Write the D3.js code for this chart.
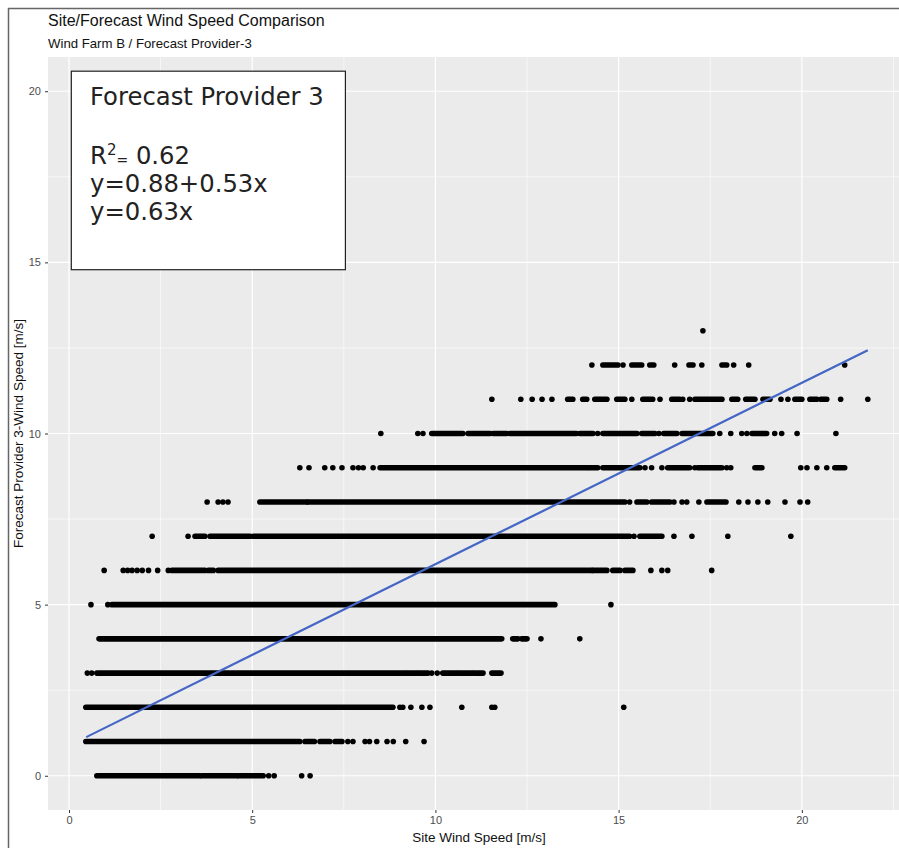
<!DOCTYPE html>
<html>
<head>
<meta charset="utf-8">
<script src="https://cdn.jsdelivr.net/npm/d3@7"></script>
<style>
  html, body { margin: 0; padding: 0; background: #fff; }
  svg { display: block; }
</style>
</head>
<body>
<div id="chart"></div>
<script>
// forecast levels are whole m/s, so every row of points sits on one integer y
const levels = [0, 1, 2, 3, 4, 5, 6, 7, 8, 9, 10, 11, 12, 13];

// dense stretches of overlapping points per level: [fromX, toX]
const denseRuns = [
  [[0.76, 3.57], [3.63, 4.58], [4.63, 5.3]],
  [[0.46, 6.3], [6.44, 6.7], [6.85, 7.12], [7.26, 7.45]],
  [[0.46, 8.84]],
  [[0.76, 9.17], [9.22, 9.5], [9.55, 9.8], [10.2, 10.6], [10.65, 11.0], [11.05, 11.3], [11.54, 11.79]],
  [[0.82, 11.81], [12.11, 12.25], [12.35, 12.5]],
  [[1.17, 13.26]],
  [[2.81, 3.71], [3.8, 3.94], [4.07, 14.27], [14.3, 14.68], [14.84, 15.04], [15.17, 15.39]],
  [[3.44, 3.71], [3.85, 4.94], [5.03, 15.3], [15.58, 16.18]],
  [[5.21, 6.49], [6.52, 15.17], [15.5, 15.77], [15.9, 16.4], [17.41, 17.93]],
  [[8.49, 14.13], [14.17, 14.43], [14.57, 15.58], [16.34, 16.94], [17.16, 17.82], [18.72, 18.91], [20.9, 21.17]],
  [[9.9, 10.75], [10.89, 11.49], [11.57, 11.95], [12.03, 13.59], [13.62, 13.85], [13.94, 14.3],
   [14.57, 15.5], [15.63, 15.99], [16.23, 16.59], [16.73, 17.57], [18.64, 19.04]],
  [[13.61, 13.75], [14.02, 14.13], [14.35, 14.68], [14.95, 15.17], [15.66, 15.93], [16.45, 16.67],
   [17.08, 17.82], [18.09, 18.25], [18.47, 18.72], [18.94, 19.13], [19.81, 20.0], [20.22, 20.41], [20.52, 20.68]],
  [[14.57, 14.98], [15.36, 15.63], [15.85, 15.96], [16.92, 17.03], [17.82, 17.95]],
  []
];

// isolated points per level (site wind speed)
const loosePoints = [
  [5.45, 5.6, 6.35, 6.58],
  [7.61, 7.75, 8.08, 8.2, 8.4, 8.68, 8.85, 9.19, 9.69],
  [9.03, 9.11, 9.33, 9.63, 9.85, 10.72, 11.54, 11.62, 15.14],
  [0.5, 0.62, 9.9, 10.05],
  [12.88, 13.94],
  [0.6, 1.06, 14.79],
  [0.96, 1.48, 1.6, 1.72, 1.86, 2.0, 2.17, 2.42, 2.71, 15.88, 16.18, 16.34, 17.54],
  [2.27, 3.25, 15.42, 16.51, 17.0, 17.98, 19.7],
  [3.77, 4.07, 4.2, 4.34, 15.3, 16.51, 16.73, 16.86, 17.19, 18.28, 18.53, 18.8, 19.07, 19.54, 19.95, 20.16],
  [6.3, 6.55, 6.98, 7.2, 7.45, 7.75, 7.9, 8.03, 8.3, 15.72, 15.9, 16.18, 17.08, 17.95, 18.06,
   19.97, 20.14, 20.41, 20.68],
  [8.51, 9.52, 9.66, 14.43, 16.1, 17.76, 18.06, 18.36, 18.5, 19.26, 19.45, 19.87, 20.93],
  [11.54, 12.33, 12.64, 12.91, 13.18, 15.36, 16.13, 16.75, 16.94, 19.43, 19.62, 21.06, 21.8],
  [14.27, 15.12, 16.53, 17.27, 18.14, 18.55, 21.17],
  [17.3]
];

// linear fit shown in the box
const fitIntercept = 0.88;
const fitSlope = 0.53;
const fitRange = [0.47, 21.8];

const xTicks = [0, 5, 10, 15, 20];
const yTicks = [0, 5, 10, 15, 20];
const xMinor = [2.5, 7.5, 12.5, 17.5, 22.5];
const yMinor = [2.5, 7.5, 12.5, 17.5];

const boxLines = ["Forecast Provider 3", "", "R2= 0.62", "y=0.88+0.53x", "y=0.63x"];

const width = 899, height = 848;
const panel = {left: 48, right: 899, top: 57, bottom: 810};

const svg = d3.select("#chart").append("svg")
  .attr("width", width)
  .attr("height", height);

const x = d3.scaleLinear().domain([-0.6, 22.87]).range([47, 907]);
const y = d3.scaleLinear().domain([-1, 21]).range([810, 57]);

// MARK: - frame and titles

svg.append("line")
  .attr("x1", 8).attr("x2", width).attr("y1", 8.5).attr("y2", 8.5)
  .attr("stroke", "#666").attr("stroke-width", 1.5);
svg.append("line")
  .attr("x1", 8.5).attr("x2", 8.5).attr("y1", 8).attr("y2", height)
  .attr("stroke", "#666").attr("stroke-width", 1.5);

svg.append("text")
  .attr("x", 48).attr("y", 26)
  .attr("font-family", "Liberation Sans, Arial, sans-serif")
  .attr("font-size", 16)
  .attr("fill", "#111")
  .text("Site/Forecast Wind Speed Comparison");

svg.append("text")
  .attr("x", 48).attr("y", 48)
  .attr("font-family", "Liberation Sans, Arial, sans-serif")
  .attr("font-size", 13.2)
  .attr("fill", "#111")
  .text("Wind Farm B / Forecast Provider-3");

// MARK: - panel

svg.append("clipPath").attr("id", "panel-clip")
  .append("rect")
  .attr("x", panel.left).attr("y", panel.top)
  .attr("width", panel.right - panel.left).attr("height", panel.bottom - panel.top);

const plot = svg.append("g").attr("clip-path", "url(#panel-clip)");

plot.append("rect")
  .attr("x", panel.left).attr("y", panel.top)
  .attr("width", panel.right - panel.left).attr("height", panel.bottom - panel.top)
  .attr("fill", "#EBEBEB");

plot.selectAll(".minor-x").data(xMinor).join("line")
  .attr("x1", d => x(d)).attr("x2", d => x(d))
  .attr("y1", panel.top).attr("y2", panel.bottom)
  .attr("stroke", "#fff").attr("stroke-width", 0.6);
plot.selectAll(".minor-y").data(yMinor).join("line")
  .attr("y1", d => y(d)).attr("y2", d => y(d))
  .attr("x1", panel.left).attr("x2", panel.right)
  .attr("stroke", "#fff").attr("stroke-width", 0.6);
plot.selectAll(".major-x").data(xTicks).join("line")
  .attr("x1", d => x(d)).attr("x2", d => x(d))
  .attr("y1", panel.top).attr("y2", panel.bottom)
  .attr("stroke", "#fff").attr("stroke-width", 1.2);
plot.selectAll(".major-y").data(yTicks).join("line")
  .attr("y1", d => y(d)).attr("y2", d => y(d))
  .attr("x1", panel.left).attr("x2", panel.right)
  .attr("stroke", "#fff").attr("stroke-width", 1.2);

// MARK: - points

const runs = levels.flatMap(level => denseRuns[level].map(r => ({level, x0: r[0], x1: r[1]})));
const dots = levels.flatMap(level => loosePoints[level].map(v => ({level, x: v})));

plot.append("g").selectAll("line").data(runs).join("line")
  .attr("x1", d => x(d.x0)).attr("x2", d => x(d.x1))
  .attr("y1", d => y(d.level)).attr("y2", d => y(d.level))
  .attr("stroke", "#000")
  .attr("stroke-width", 5.6)
  .attr("stroke-linecap", "round");

plot.append("g").selectAll("circle").data(dots).join("circle")
  .attr("cx", d => x(d.x))
  .attr("cy", d => y(d.level))
  .attr("r", 2.8)
  .attr("fill", "#000");

// fitted line
plot.append("line")
  .attr("x1", x(fitRange[0])).attr("y1", y(fitIntercept + fitSlope * fitRange[0]))
  .attr("x2", x(fitRange[1])).attr("y2", y(fitIntercept + fitSlope * fitRange[1]))
  .attr("stroke", "#4467C6")
  .attr("stroke-width", 2.2);

// MARK: - annotation box

const box = plot.append("g");
box.append("rect")
  .attr("x", x(0.05) + 0.5).attr("y", y(20.6) + 0.5)
  .attr("width", x(7.53) - x(0.05)).attr("height", y(14.8) - y(20.6))
  .attr("fill", "#fff")
  .attr("stroke", "#222")
  .attr("stroke-width", 1.2);

const boxText = box.append("text")
  .attr("font-family", "DejaVu Sans, Verdana, sans-serif")
  .attr("font-size", 24.3)
  .attr("fill", "#222");

const lineY = [105, 136, 164, 192, 220];
boxLines.forEach((line, i) => {
  if (!line) return;
  const t = boxText.append("tspan").attr("x", 90).attr("y", lineY[i]);
  if (line.startsWith("R2")) {
    t.text("R");
    boxText.append("tspan").attr("dy", -9).attr("font-size", 15).text("2");
    boxText.append("tspan").attr("dy", 10).attr("font-size", 14).text("=");
    boxText.append("tspan").attr("dy", -1).text(" 0.62");
  } else {
    t.text(line);
  }
});

// MARK: - axes

const tickFont = "Liberation Sans, Arial, sans-serif";

const xAxis = svg.append("g")
  .attr("transform", `translate(0,${panel.bottom})`)
  .call(d3.axisBottom(x).tickValues(xTicks).tickSize(3).tickPadding(3));
const yAxis = svg.append("g")
  .attr("transform", `translate(${panel.left},0)`)
  .call(d3.axisLeft(y).tickValues(yTicks).tickSize(3).tickPadding(4));

[xAxis, yAxis].forEach(a => {
  a.select(".domain").remove();
  a.selectAll(".tick line").attr("stroke", "#333").attr("stroke-width", 1);
  a.selectAll(".tick text")
    .attr("font-family", tickFont)
    .attr("font-size", 11)
    .attr("fill", "#4D4D4D");
});

svg.append("text")
  .attr("x", (panel.left + 910) / 2).attr("y", 842)
  .attr("text-anchor", "middle")
  .attr("font-family", tickFont)
  .attr("font-size", 13.5)
  .attr("fill", "#111")
  .text("Site Wind Speed [m/s]");

svg.append("text")
  .attr("transform", `translate(23,${(panel.top + panel.bottom) / 2}) rotate(-90)`)
  .attr("text-anchor", "middle")
  .attr("font-family", tickFont)
  .attr("font-size", 13.5)
  .attr("fill", "#111")
  .text("Forecast Provider 3-Wind Speed [m/s]");
</script>
</body>
</html>
